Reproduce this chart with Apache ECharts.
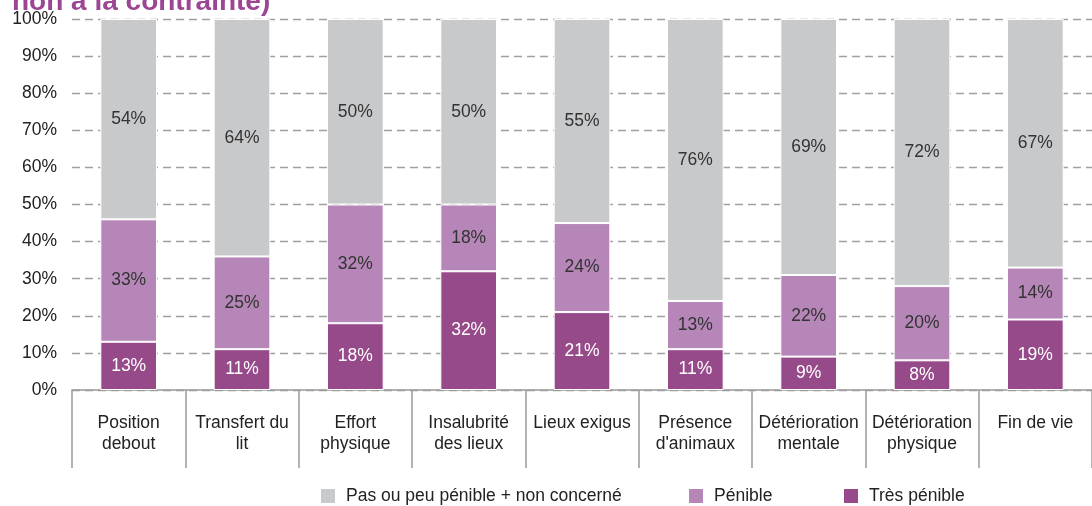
<!DOCTYPE html>
<html>
<head>
<meta charset="utf-8">
<script src="https://cdn.jsdelivr.net/npm/echarts@6/dist/echarts.min.js"></script>
<style>
html,body{margin:0;padding:0;background:#fff;}
#chart{width:1092px;height:506px;}
</style>
</head>
<body>
<div id="chart"></div>
<script>
const titleText = "non à la contrainte)";
const categories = ["Position\ndebout", "Transfert du\nlit", "Effort\nphysique", "Insalubrité\ndes lieux", "Lieux exigus", "Présence\nd'animaux", "Détérioration\nmentale", "Détérioration\nphysique", "Fin de vie"];
const seriesNames = ["Pas ou peu pénible + non concerné", "Pénible", "Très pénible"];
const tresPenible = [13, 11, 18, 32, 21, 11, 9, 8, 19];
const penible = [33, 25, 32, 18, 24, 13, 22, 20, 14];
const pasPenible = [54, 64, 50, 50, 55, 76, 69, 72, 67];

const FONT = "'Liberation Sans', Arial, sans-serif";
const FS = 17.5;
const chart = echarts.init(document.getElementById('chart'), null, {renderer: 'canvas'});

function barSeries(name, data, color, labelColor) {
  return {
    name: name,
    type: 'bar',
    stack: 'total',
    data: data,
    barWidth: '50%',
    itemStyle: {color: color, borderColor: '#ffffff', borderWidth: 1},
    label: {
      show: true,
      position: 'inside',
      formatter: '{c}%',
      color: labelColor,
      fontSize: FS,
      fontFamily: FONT
    },
    emphasis: {disabled: true}
  };
}

function legendFor(name, left) {
  return {
    data: [name],
    left: left,
    top: 487,
    padding: 0,
    itemWidth: 16,
    itemHeight: 16,
    icon: 'rect',
    textStyle: {color: '#222', fontSize: FS, fontFamily: FONT, padding: [0, 0, 0, 5]},
    selectedMode: false
  };
}

chart.setOption({
  animation: false,
  backgroundColor: '#ffffff',
  title: {
    text: titleText,
    left: 7,
    top: -17,
    textStyle: {color: '#9b4593', fontSize: 28, fontWeight: 'bold', fontFamily: FONT}
  },
  legend: [
    legendFor(seriesNames[0], 319),
    legendFor(seriesNames[1], 687),
    legendFor(seriesNames[2], 842)
  ],
  grid: {left: 72, right: -7, top: 19, bottom: 116, containLabel: false},
  xAxis: {
    type: 'category',
    data: categories,
    axisLine: {show: true, lineStyle: {color: '#9a9a9a', width: 1.5}},
    axisTick: {show: true, length: 78, lineStyle: {color: '#9a9a9a', width: 1.5}},
    axisLabel: {
      interval: 0,
      margin: 23,
      color: '#222',
      fontSize: FS,
      lineHeight: 21,
      fontFamily: FONT
    },
    splitLine: {show: false}
  },
  yAxis: {
    type: 'value',
    min: 0,
    max: 100,
    interval: 10,
    axisLine: {show: false},
    axisTick: {show: false},
    axisLabel: {formatter: '{value}%', color: '#222', fontSize: FS, margin: 15, fontFamily: FONT},
    splitLine: {show: true, lineStyle: {color: '#a0a0a0', width: 1.3, type: [8, 5]}}
  },
  series: [
    barSeries(seriesNames[2], tresPenible, '#964a8a', '#ffffff'),
    barSeries(seriesNames[1], penible, '#b586b7', '#333333'),
    barSeries(seriesNames[0], pasPenible, '#c8c9cb', '#333333')
  ]
});
</script>
</body>
</html>
